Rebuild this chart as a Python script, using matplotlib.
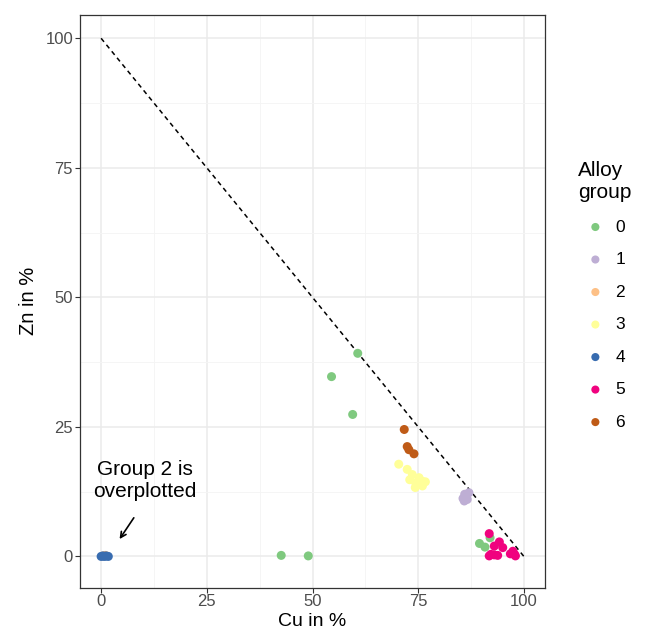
import matplotlib.pyplot as plt
from matplotlib.ticker import MultipleLocator

plt.rcParams['font.family'] = ['Liberation Sans', 'DejaVu Sans']

# Accent palette, one colour per alloy group
group_names = ['0', '1', '2', '3', '4', '5', '6']
group_colors = ['#7FC97F', '#BEAED4', '#FDC086', '#FFFF99', '#386CB0', '#F0027F', '#BF5B17']

# Cu / Zn values (in %)
cu_0 = [60.7, 54.5, 59.5, 42.6, 49.0, 89.5, 90.8, 92.0]
zn_0 = [39.2, 34.7, 27.4, 0.2, 0.1, 2.5, 1.8, 3.6]
cu_1 = [85.6, 86.3, 87.0, 85.9, 86.6, 86.0]
zn_1 = [11.2, 11.9, 12.3, 10.7, 11.0, 12.0]
cu_2 = [0.5, 1.0]
zn_2 = [0.1, 0.2]
cu_3 = [70.4, 72.4, 73.6, 74.4, 76.0, 76.7, 74.3, 76.0, 75.2, 73.0, 74.8, 75.6]
zn_3 = [17.8, 16.8, 15.8, 14.2, 14.5, 14.4, 13.3, 13.6, 15.2, 14.8, 13.8, 14.0]
cu_4 = [0.0, 0.4, 0.8, 1.2, 1.7]
zn_4 = [0.0, 0.1, 0.0, 0.1, 0.0]
cu_5 = [91.8, 93.0, 94.2, 95.0, 92.2, 93.8, 97.4, 98.0, 91.8, 93.0, 96.8, 97.8]
zn_5 = [4.4, 2.0, 2.8, 1.7, 0.4, 0.2, 1.0, 0.1, 0.1, 0.3, 0.5, 0.4]
cu_6 = [71.7, 72.4, 74.0, 72.8]
zn_6 = [24.5, 21.2, 19.8, 20.6]

cu_vals = [cu_0, cu_1, cu_2, cu_3, cu_4, cu_5, cu_6]
zn_vals = [zn_0, zn_1, zn_2, zn_3, zn_4, zn_5, zn_6]

fig = plt.figure(figsize=(6.45, 6.32), dpi=100)
ax = fig.add_axes([0.124, 0.0704, 0.721, 0.9059])

ax.plot([0, 100], [100, 0], linestyle=(0, (3, 2.5)), color='black', linewidth=1.1, zorder=2)

for name, color, cu, zn in zip(group_names, group_colors, cu_vals, zn_vals):
    ax.scatter(cu, zn, s=42, color=color, label=name, edgecolors='none', zorder=3)

ax.set_xlim(-5, 105)
ax.set_ylim(-6, 104.5)
ax.xaxis.set_major_locator(MultipleLocator(25))
ax.yaxis.set_major_locator(MultipleLocator(25))
ax.xaxis.set_minor_locator(MultipleLocator(12.5))
ax.yaxis.set_minor_locator(MultipleLocator(12.5))
ax.grid(which='major', color='#EBEBEB', linewidth=1.1, zorder=0)
ax.grid(which='minor', color='#F4F4F4', linewidth=0.6, zorder=0)
ax.set_axisbelow(True)
ax.tick_params(which='major', length=3.5, color='#333333', labelsize=12, labelcolor='#4D4D4D', pad=1.5)
ax.tick_params(which='minor', length=0)
for sp in ax.spines.values():
    sp.set_color('#333333')
    sp.set_linewidth(0.9)

ax.set_xlabel('Cu in %', fontsize=14, va='top')
ax.set_ylabel('Zn in %', fontsize=14.5, va='center')
ax.xaxis.set_label_coords(0.5, -0.0448)
ax.yaxis.set_label_coords(-0.11, 0.5)

ax.text(10.3, 14.6, 'Group 2 is\noverplotted', ha='center', va='center', fontsize=15, linespacing=1.2)
ax.annotate('', xy=(4.0, 2.9), xytext=(8.1, 7.9),
            arrowprops=dict(arrowstyle='->', color='black', lw=1.2))

leg = ax.legend(title='Alloy\ngroup', loc='upper left', bbox_to_anchor=(1.056, 0.757),
                frameon=False, fontsize=12.5, title_fontsize=15, handlelength=2.0,
                handletextpad=0.15, labelspacing=1.0, markerscale=0.9, borderaxespad=0)
leg._legend_box.align = 'left'

fig.savefig('out.png', dpi=100)
